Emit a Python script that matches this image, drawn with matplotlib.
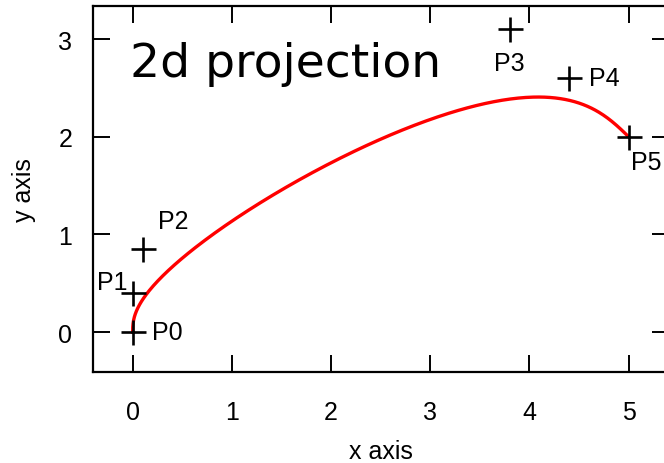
import numpy as np
import matplotlib

matplotlib.use("Agg")

import matplotlib.pyplot as plt
from math import comb

# control points of the bezier curve
labels = ["P0", "P1", "P2", "P3", "P4", "P5"]
px = [0.0, 0.0, 0.1, 3.8, 4.4, 5.0]
py = [0.0, 0.4, 0.85, 3.1, 2.6, 2.0]

# label offsets in points (dx, dy)
label_offsets = [(25, 0), (-15, 8), (22, 20), (0, -24), (25, 0), (13, -18)]

x_ticks = [0, 1, 2, 3, 4, 5]
y_ticks = [0, 1, 2, 3]

plt.rcParams["font.family"] = ["Liberation Sans", "DejaVu Sans"]

fig = plt.figure(figsize=(6.64, 4.64), dpi=100)
ax = fig.add_axes([0.140, 0.196, 0.868, 0.789])

# bernstein form of the curve
n = len(px) - 1
t = np.linspace(0, 1, 400)
cx = np.zeros_like(t)
cy = np.zeros_like(t)
for k in range(n + 1):
    b = comb(n, k) * t**k * (1 - t) ** (n - k)
    cx += b * px[k]
    cy += b * py[k]

ax.plot(cx, cy, color="#ff0000", lw=2.4, zorder=2)
ax.plot(px, py, ls="none", marker="+", ms=18, mew=1.9, color="black", zorder=3)

for lab, x, y, (dx, dy) in zip(labels, px, py, label_offsets):
    ax.annotate(lab, (x, y), xytext=(dx, dy), textcoords="offset points",
                ha="center", va="center", fontsize=18)

ax.text(-0.03, 2.62, "2d projection", family="DejaVu Sans", fontsize=34,
        ha="left", va="baseline")

ax.set_xlim(-0.4, 5.41)
ax.set_ylim(-0.41, 3.34)
ax.set_xticks(x_ticks)
ax.set_yticks(y_ticks)
ax.tick_params(direction="in", length=12, width=1.4, top=True, right=True,
               labelsize=18, colors="black")
ax.tick_params(axis="x", pad=20)
ax.tick_params(axis="y", pad=15)
for s in ax.spines.values():
    s.set_linewidth(1.6)

ax.set_xlabel("x axis", fontsize=18, labelpad=11)
ax.set_ylabel("y axis", fontsize=18, labelpad=16)

fig.savefig("out.png", dpi=100)
